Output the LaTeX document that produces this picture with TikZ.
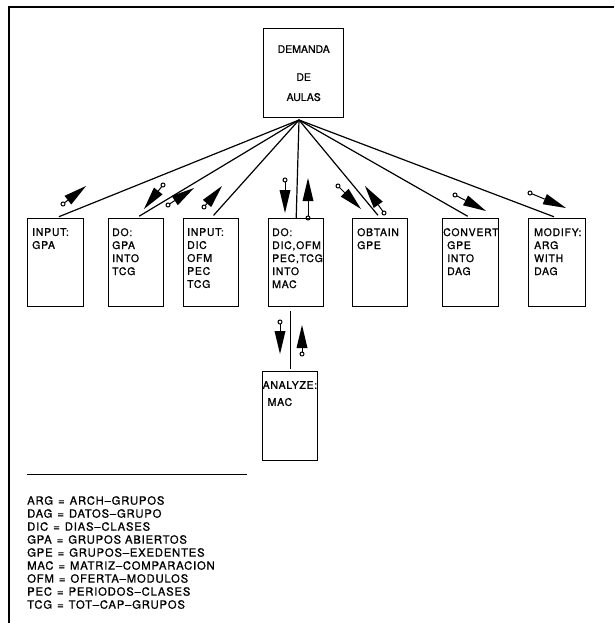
\documentclass[tikz,border=0pt]{standalone}
\usepackage{fontspec}
\setmainfont{TeX Gyre Heros}[FakeBold=1]
\newfontfamily\spacedfont{TeX Gyre Heros}[FakeBold=1, LetterSpace=7]
\usetikzlibrary{calc}

\tikzset{
  modbox/.style={draw, line width=1.4pt, anchor=north west, minimum width=56pt, minimum height=88pt, inner sep=0pt},
  modtxt/.style={anchor=north west, align=left, inner sep=0pt, font=\spacedfont\fontsize{10.5}{13}\selectfont},
  legtxt/.style={anchor=north west, align=left, inner sep=0pt, font=\spacedfont\fontsize{11.3}{13}\selectfont},
  link/.style={line width=1.2pt}
}
% data couple: #1 tail (circle), #2 tip
\newcommand{\datacouple}[2]{%
  \path (#1) coordinate (ct) (#2) coordinate (ch);
  \coordinate (cb) at ($(ch)!23pt!(ct)$);
  \draw[line width=1pt] ($(ct)!2pt!(ch)$) -- (cb);
  \draw[line width=1pt] (ct) circle (2pt);
  \fill (ch) -- ($(cb)!5.5pt!90:(ch)$) -- ($(cb)!5.5pt!-90:(ch)$) -- cycle;
}
\newcommand{\eq}{\hspace{5pt}=\hspace{5pt}}
\newcommand{\dd}{\textendash{}}

\begin{document}
\begin{tikzpicture}[x=1pt, y=-1pt]
\useasboundingbox (0,0) rectangle (614,623);
% frame
\draw[line width=1.6pt] (9,623) -- (9,7) -- (614,7);

% main module
\node[modbox, minimum width=80pt, minimum height=89pt, align=center, font=\fontsize{10.5}{13}\selectfont] (dem) at (263,28) {DEMANDA\\[15pt]DE\\[7pt]AULAS};
\coordinate (hub) at (299,120);

% sub modules
\node[modbox] (inpgpa) at (27,218) {};
\node[modtxt] at ([shift={(5,10)}]inpgpa.north west) {INPUT:\\GPA};
\node[modbox, minimum width=55pt] (dogpa) at (108,218) {};
\node[modtxt] at ([shift={(4,10)}]dogpa.north west) {DO:\\GPA\\INTO\\TCG};
\node[modbox, minimum width=55pt] (inpdic) at (183,218) {};
\node[modtxt] at ([shift={(4,10)}]inpdic.north west) {INPUT:\\DIC\\OFM\\PEC\\TCG};
\node[modbox, minimum width=55pt] (domac) at (268,218) {};
\node[modtxt] at ([shift={(4,10)}]domac.north west) {DO:\\DIC,OFM\\PEC,TCG\\INTO\\MAC};
\node[modbox, minimum width=55pt] (obtgpe) at (352,218) {};
\node[modtxt] at ([shift={(5,10)}]obtgpe.north west) {OBTAIN\\GPE};
\node[modbox] (convgpe) at (442,218) {};
\node[modtxt] at ([shift={(1,10)}]convgpe.north west) {CONVERT\\\hspace{4pt}GPE\\\hspace{4pt}INTO\\\hspace{4pt}DAG};
\node[modbox, minimum width=57pt] (moddag) at (528,218) {};
\node[modtxt] at ([shift={(6,10)}]moddag.north west) {MODIFY:\\ARG\\WITH\\DAG};
\node[modbox, minimum width=55pt, minimum height=89pt] (anmac) at (262,371) {};
\node[modtxt, font=\spacedfont\fontsize{10.5}{17}\selectfont] at ([shift={(0.5,10)}]anmac.north west) {ANALYZE:\\\hspace{5pt}MAC};

% links
\foreach \m in {inpgpa,dogpa,inpdic,obtgpe,convgpe,moddag}
  \draw[link, shorten >=3.5pt] (hub) -- (\m.north);
\draw[link] (hub) -- (domac.north);
\draw[link, shorten <=4pt, shorten >=2pt] (anmac.north |- domac.south) -- (anmac.north);

% couples
\datacouple{63,204}{86,186}
\datacouple{163,185}{144,209}
\datacouple{168,205}{194,188}
\datacouple{204,207}{222,186}
\datacouple{285,180}{285,213}
\datacouple{308,218}{308,178}
\datacouple{338,186}{361,209}
\datacouple{384,213}{365,186}
\datacouple{455,195}{486,211}
\datacouple{530,193}{566,208}
\datacouple{280,322}{280,354}
\datacouple{302,354}{302,325}

% legend
\draw[line width=1pt] (27,474) -- (247,474);
\node[legtxt] (leg) at (27,496) {ARG\eq ARCH\dd GRUPOS\\DAG\eq DATOS\dd GRUPO\\DIC\eq DIAS\dd CLASES\\GPA\eq GRUPOS ABIERTOS\\GPE\eq GRUPOS\dd EXEDENTES\\MAC\eq MATRIZ\dd COMPARACION\\OFM\eq OFERTA\dd MODULOS\\PEC\eq PERIODOS\dd CLASES\\TCG\eq TOT\dd CAP\dd GRUPOS};
\end{tikzpicture}
\end{document}
